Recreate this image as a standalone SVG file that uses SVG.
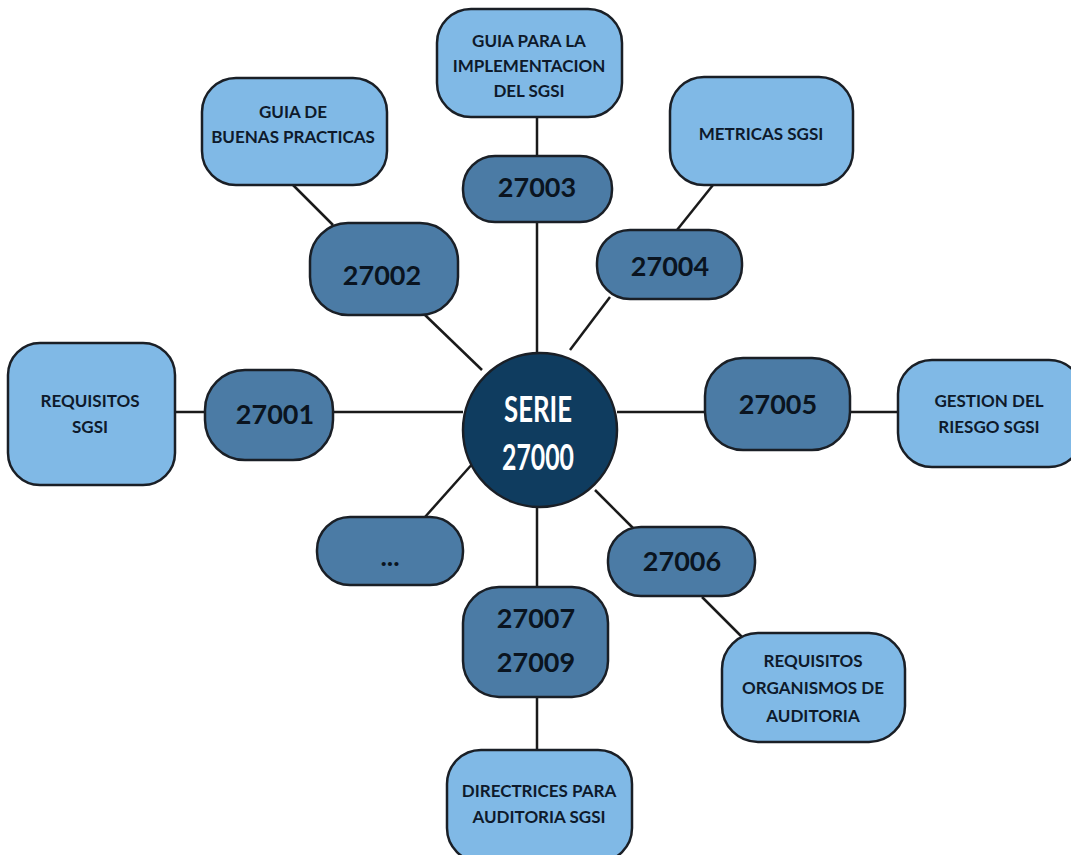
<svg xmlns="http://www.w3.org/2000/svg" width="1071" height="855" viewBox="0 0 1071 855">
<style>
.light{fill:#80b9e6;stroke:#1a1f26;stroke-width:2.5}
.dark{fill:#4b7ba5;stroke:#1a1f26;stroke-width:2.5}
.ct{fill:#0f3c5f;stroke:#1a1f26;stroke-width:2.5}
.lt{font-family:Lato,"Open Sans",sans-serif;font-weight:bold;font-size:17px;fill:#0e1a2b;text-anchor:middle}
.nt{font-family:Lato,"Open Sans",sans-serif;font-weight:bold;font-size:27px;fill:#0a1420;text-anchor:middle}
.st{font-family:Lato,"Open Sans",sans-serif;font-weight:bold;font-size:36px;fill:#ffffff;text-anchor:middle}
.edges line{stroke:#1a1a1a;stroke-width:2.5}
</style>
<rect width="1071" height="855" fill="#ffffff"/>
<g class="edges">
<line x1="175" y1="412" x2="205" y2="412"/>
<line x1="333" y1="412" x2="463" y2="412"/>
<line x1="617" y1="412" x2="705" y2="412"/>
<line x1="850" y1="412" x2="898" y2="412"/>
<line x1="537" y1="117" x2="537" y2="155"/>
<line x1="537" y1="222" x2="537" y2="353"/>
<line x1="537" y1="507" x2="537" y2="587"/>
<line x1="537" y1="697" x2="537" y2="750"/>
<line x1="293" y1="185" x2="333" y2="225"/>
<line x1="425" y1="315" x2="482" y2="370"/>
<line x1="713" y1="185" x2="677" y2="230"/>
<line x1="610" y1="297" x2="570" y2="350"/>
<line x1="425" y1="517" x2="474" y2="462"/>
<line x1="595" y1="490" x2="635" y2="530"/>
<line x1="702" y1="597" x2="742" y2="637"/>
</g>
<g id="center"><circle class="ct" cx="540" cy="430" r="77"/><text class="st" x="538" y="422" textLength="68" lengthAdjust="spacingAndGlyphs">SERIE</text><text class="st" x="538" y="470" textLength="72" lengthAdjust="spacingAndGlyphs">27000</text></g>
<g id="n27001"><rect class="dark" x="205" y="370" width="128" height="90" rx="40"/><text class="nt" x="275" y="424">27001</text></g>
<g id="req"><rect class="light" x="8" y="343" width="167" height="142" rx="32"/><text class="lt" x="90" y="407">REQUISITOS</text><text class="lt" x="90" y="433">SGSI</text></g>
<g id="n27002"><rect class="dark" x="310" y="223" width="148" height="92" rx="38"/><text class="nt" x="382" y="285">27002</text></g>
<g id="guia"><rect class="light" x="202" y="78" width="185" height="107" rx="34"/><text class="lt" x="293" y="118">GUIA DE</text><text class="lt" x="293" y="143">BUENAS PRACTICAS</text></g>
<g id="n27003"><rect class="dark" x="463" y="156" width="149" height="66" rx="32"/><text class="nt" x="537" y="197">27003</text></g>
<g id="impl"><rect class="light" x="437" y="9" width="185" height="108" rx="34"/><text class="lt" x="529" y="47">GUIA PARA LA</text><text class="lt" x="529" y="72">IMPLEMENTACION</text><text class="lt" x="529" y="97">DEL SGSI</text></g>
<g id="n27004"><rect class="dark" x="597" y="230" width="145" height="69" rx="33"/><text class="nt" x="670" y="276">27004</text></g>
<g id="metr"><rect class="light" x="670" y="77" width="183" height="108" rx="34"/><text class="lt" x="761" y="140">METRICAS SGSI</text></g>
<g id="n27005"><rect class="dark" x="705" y="358" width="145" height="92" rx="38"/><text class="nt" x="778" y="414">27005</text></g>
<g id="riesgo"><rect class="light" x="898" y="360" width="185" height="107" rx="34"/><text class="lt" x="989" y="407">GESTION DEL</text><text class="lt" x="989" y="433">RIESGO SGSI</text></g>
<g id="dots"><rect class="dark" x="317" y="517" width="146" height="68" rx="33"/><text class="nt" x="390" y="566">...</text></g>
<g id="n27006"><rect class="dark" x="608" y="527" width="147" height="69" rx="33"/><text class="nt" x="682" y="571">27006</text></g>
<g id="organ"><rect class="light" x="722" y="633" width="183" height="109" rx="36"/><text class="lt" x="813" y="667">REQUISITOS</text><text class="lt" x="813" y="694">ORGANISMOS DE</text><text class="lt" x="813" y="722">AUDITORIA</text></g>
<g id="n27007"><rect class="dark" x="463" y="587" width="145" height="110" rx="36"/><text class="nt" x="536" y="628">27007</text><text class="nt" x="536" y="672">27009</text></g>
<g id="direc"><rect class="light" x="447" y="750" width="185" height="112" rx="34"/><text class="lt" x="539" y="797">DIRECTRICES PARA</text><text class="lt" x="539" y="823">AUDITORIA SGSI</text></g>
</svg>
